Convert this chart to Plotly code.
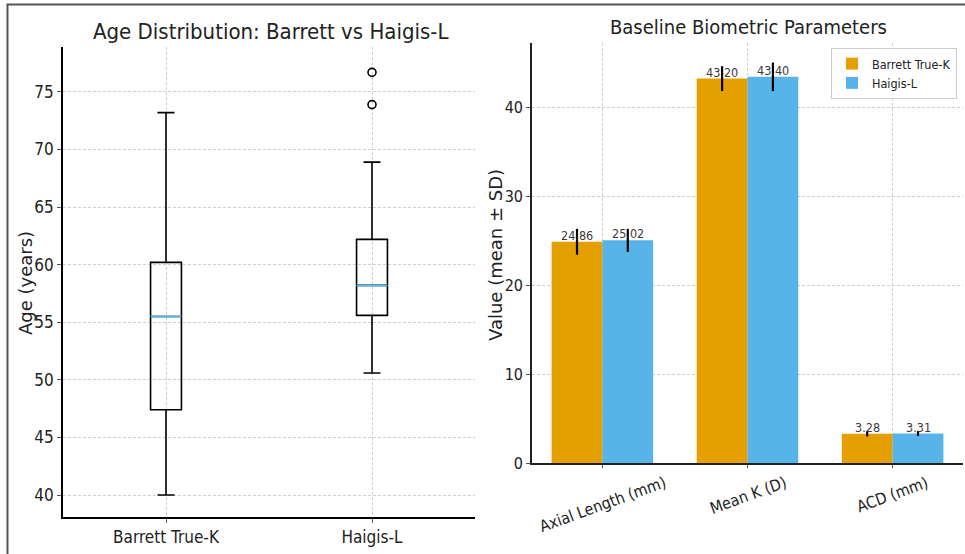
import plotly.graph_objects as go

# ---------------- data ----------------
box_groups = ["Barrett True-K", "Haigis-L"]
box_pos = [1, 2]
box_lower = [40.0, 50.6]
box_q1 = [47.4, 55.6]
box_median = [55.5, 58.2]
box_q3 = [60.2, 62.2]
box_upper = [73.2, 68.9]
haigis_outliers = [73.9, 76.7]

params = ["Axial Length (mm)", "Mean K (D)", "ACD (mm)"]
barrett_mean = [24.86, 43.20, 3.28]
barrett_sd = [1.45, 1.40, 0.30]
haigis_mean = [25.02, 43.40, 3.31]
haigis_sd = [1.30, 1.60, 0.28]

ORANGE = "#E69F00"
BLUE = "#56B4E9"
NARROW = "DejaVu Sans Condensed, DejaVu Sans, sans-serif"
DEJAVU = "DejaVu Sans, sans-serif"
W, H = 965, 554
BAR_W = 0.35

def px_x(p):
    return p / W

def px_y(p):
    return (H - p) / H

fig = go.Figure()

# ---------------- left: boxplots ----------------
BOX_W = 0.15
for i in range(len(box_groups)):
    fig.add_trace(go.Box(
        x=[box_pos[i]], q1=[box_q1[i]], median=[box_median[i]], q3=[box_q3[i]],
        lowerfence=[box_lower[i]], upperfence=[box_upper[i]],
        width=BOX_W, whiskerwidth=0.55,
        line=dict(color="black", width=1.6), fillcolor="rgba(255,255,255,0)",
        boxpoints=False, showlegend=False, xaxis="x", yaxis="y", hoverinfo="skip",
    ))
    fig.add_trace(go.Scatter(
        x=[box_pos[i] - BOX_W / 2, box_pos[i] + BOX_W / 2],
        y=[box_median[i], box_median[i]],
        mode="lines", line=dict(color=BLUE, width=1.8),
        showlegend=False, xaxis="x", yaxis="y", hoverinfo="skip",
    ))

fig.add_trace(go.Scatter(
    x=[box_pos[1]] * len(haigis_outliers), y=haigis_outliers, mode="markers",
    marker=dict(symbol="circle-open", size=8, color="black", line=dict(width=1.6)),
    showlegend=False, xaxis="x", yaxis="y", hoverinfo="skip",
))

# ---------------- right: bars ----------------
fig.add_trace(go.Bar(
    x=list(range(len(params))), y=barrett_mean, name="Barrett True-K",
    marker=dict(color=ORANGE, line=dict(width=0)),
    error_y=dict(type="data", array=barrett_sd, color="black", thickness=2.2, width=0),
    xaxis="x2", yaxis="y2",
))
fig.add_trace(go.Bar(
    x=list(range(len(params))), y=haigis_mean, name="Haigis-L",
    marker=dict(color=BLUE, line=dict(width=0)),
    error_y=dict(type="data", array=haigis_sd, color="black", thickness=2.2, width=0),
    xaxis="x2", yaxis="y2",
))

grid = dict(showgrid=True, gridcolor="#cfcfcf", griddash="3px,2px", gridwidth=1,
            automargin=False)

fig.update_layout(
    width=W, height=H, margin=dict(l=0, r=0, t=0, b=0, autoexpand=False),
    paper_bgcolor="white", plot_bgcolor="white",
    barmode="group", bargap=1 - 2 * BAR_W, bargroupgap=0,
    font=dict(family=NARROW, color="#222222"),
    xaxis=dict(domain=[px_x(63), px_x(475)], range=[0.5, 2.5],
               tickvals=box_pos, ticktext=box_groups, tickfont=dict(size=17, color="#222"),
               showline=True, linecolor="black", linewidth=1.6, ticks="outside",
               ticklen=4, tickcolor="#555", zeroline=False, anchor="y", **grid),
    yaxis=dict(domain=[px_y(517), px_y(47)], range=[38.09, 78.9],
               tickvals=[40, 45, 50, 55, 60, 65, 70, 75], tickfont=dict(size=17, color="#222"),
               showline=True, linecolor="black", linewidth=1.6, ticks="outside",
               ticklen=4, tickcolor="#555", zeroline=False, anchor="x", **grid),
    xaxis2=dict(domain=[px_x(532), px_x(963)], range=[-0.485, 2.485],
                tickvals=[0, 1, 2], showticklabels=False,
                showline=True, linecolor="#222", linewidth=1.8, ticks="outside",
                ticklen=3, tickcolor="#555", zeroline=False, anchor="y2", **grid),
    yaxis2=dict(domain=[px_y(463), px_y(43)], range=[0, 47.2],
                tickvals=[0, 10, 20, 30, 40], tickfont=dict(size=16, color="#222"),
                showline=True, linecolor="#222", linewidth=1.6, ticks="outside",
                ticklen=4, tickcolor="#555", zeroline=False, anchor="x2", **grid),
    legend=dict(x=px_x(957), y=px_y(48), xanchor="right", yanchor="top",
                bgcolor="white", bordercolor="#cccccc", borderwidth=1,
                font=dict(size=12.5, color="#222", family=NARROW),
                tracegroupgap=2, itemwidth=30),
    showlegend=True,
)

annotations = [
    dict(text="Age Distribution: Barrett vs Haigis-L", x=px_x(270), y=px_y(31),
         xref="paper", yref="paper", showarrow=False, xanchor="center", yanchor="middle",
         font=dict(size=22, color="#222", family=NARROW)),
    dict(text="Baseline Biometric Parameters", x=px_x(748), y=px_y(27),
         xref="paper", yref="paper", showarrow=False, xanchor="center", yanchor="middle",
         font=dict(size=20, color="#222", family=NARROW)),
    dict(text="Age (years)", x=px_x(26), y=px_y(283), xref="paper", yref="paper",
         showarrow=False, xanchor="center", yanchor="middle", textangle=-90,
         font=dict(size=18, color="#222", family=DEJAVU)),
    dict(text="Value (mean ± SD)", x=px_x(495), y=px_y(255), xref="paper", yref="paper",
         showarrow=False, xanchor="center", yanchor="middle", textangle=-90,
         font=dict(size=18, color="#222", family=DEJAVU)),
]
for i, p in enumerate(params):
    annotations.append(dict(
        text=p, x=i, xref="x2", y=px_y(470), yref="paper", showarrow=False,
        xanchor="center", yanchor="top", textangle=-20,
        font=dict(size=16, color="#222", family=NARROW),
    ))
# value labels on top of each bar
for series, offset in ((barrett_mean, -BAR_W / 2), (haigis_mean, BAR_W / 2)):
    for i, v in enumerate(series):
        annotations.append(dict(
            text=f"{v:.2f}", x=i + offset, y=v, xref="x2", yref="y2",
            showarrow=False, xanchor="center", yanchor="bottom", yshift=-3,
            font=dict(size=12.5, color="#3a3a3a", family=NARROW),
        ))
fig.update_layout(annotations=annotations)

fig.update_layout(shapes=[
    dict(type="rect", xref="paper", yref="paper", x0=px_x(7.5), x1=1.02,
         y0=-0.02, y1=px_y(4.5), line=dict(color="#555", width=2),
         fillcolor="rgba(0,0,0,0)", layer="above"),
])

fig.write_html("out.html", config={"displayModeBar": False},
               post_script="document.body.style.margin='0';document.body.style.overflow='hidden';")
